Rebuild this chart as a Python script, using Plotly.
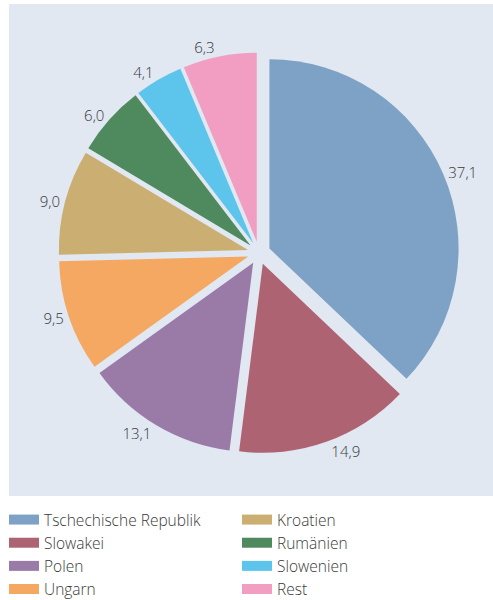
import plotly.graph_objects as go

categories = ["Tschechische Republik", "Slowakei", "Polen", "Ungarn",
              "Kroatien", "Rumänien", "Slowenien", "Rest"]
values = [37.1, 14.9, 13.1, 9.5, 9.0, 6.0, 4.1, 6.3]
colors = ["#7DA2C6", "#AE6373", "#9A7BA8", "#F4A862",
          "#CBAE72", "#4F8A5E", "#5DC4EC", "#F19EC2"]

W, H = 493, 600
BG = "#E1E8F2"
TXT = "#3A3A3A"
FONT = "Open Sans"

fig = go.Figure()

# pie geometry (pixels)
cx, cy, half = 259, 253, 200.5
fig.add_trace(go.Pie(
    labels=categories, values=values, sort=False, direction="clockwise",
    rotation=0,
    marker=dict(colors=colors, line=dict(width=0)),
    pull=[0.06] * len(values),
    textposition="outside", texttemplate="%{value:.1f}",
    textfont=dict(family=FONT, size=15, color=TXT, weight=300),
    showlegend=False, hoverinfo="label+value",
    domain=dict(x=[(cx - half) / W, (cx + half) / W],
                y=[(H - cy - half) / H, (H - cy + half) / H]),
))

# legend entries (two columns)
for i, (name, col) in enumerate(zip(categories, colors)):
    fig.add_trace(go.Scatter(
        x=[None], y=[None], mode="lines", name=name,
        line=dict(color=col, width=10),
        legend="legend" if i < 4 else "legend2",
        hoverinfo="skip",
    ))

legend_common = dict(
    orientation="v", yanchor="top", xanchor="left",
    xref="container", yref="container",
    font=dict(family=FONT, size=15.5, color=TXT, weight=300),
    bgcolor="rgba(0,0,0,0)", borderwidth=0, traceorder="normal",
    tracegroupgap=0, itemclick=False, itemdoubleclick=False,
)

fig.update_layout(
    width=W, height=H,
    margin=dict(l=0, r=0, t=0, b=0, autoexpand=False),
    paper_bgcolor="white", plot_bgcolor="rgba(0,0,0,0)",
    separators=",.",
    xaxis=dict(visible=False), yaxis=dict(visible=False),
    legend=dict(x=4 / W, y=(H - 503) / H, **legend_common),
    legend2=dict(x=237 / W, y=(H - 503) / H, **legend_common),
    shapes=[dict(type="rect", xref="paper", yref="paper", layer="below",
                 x0=9 / W, x1=1, y0=(H - 496) / H, y1=(H - 4) / H,
                 fillcolor=BG, line=dict(width=0))],
)

fig.write_html(
    "out.html",
    config={"displayModeBar": False},
    post_script="document.body.style.margin='0';document.body.style.overflow='hidden';",
)
